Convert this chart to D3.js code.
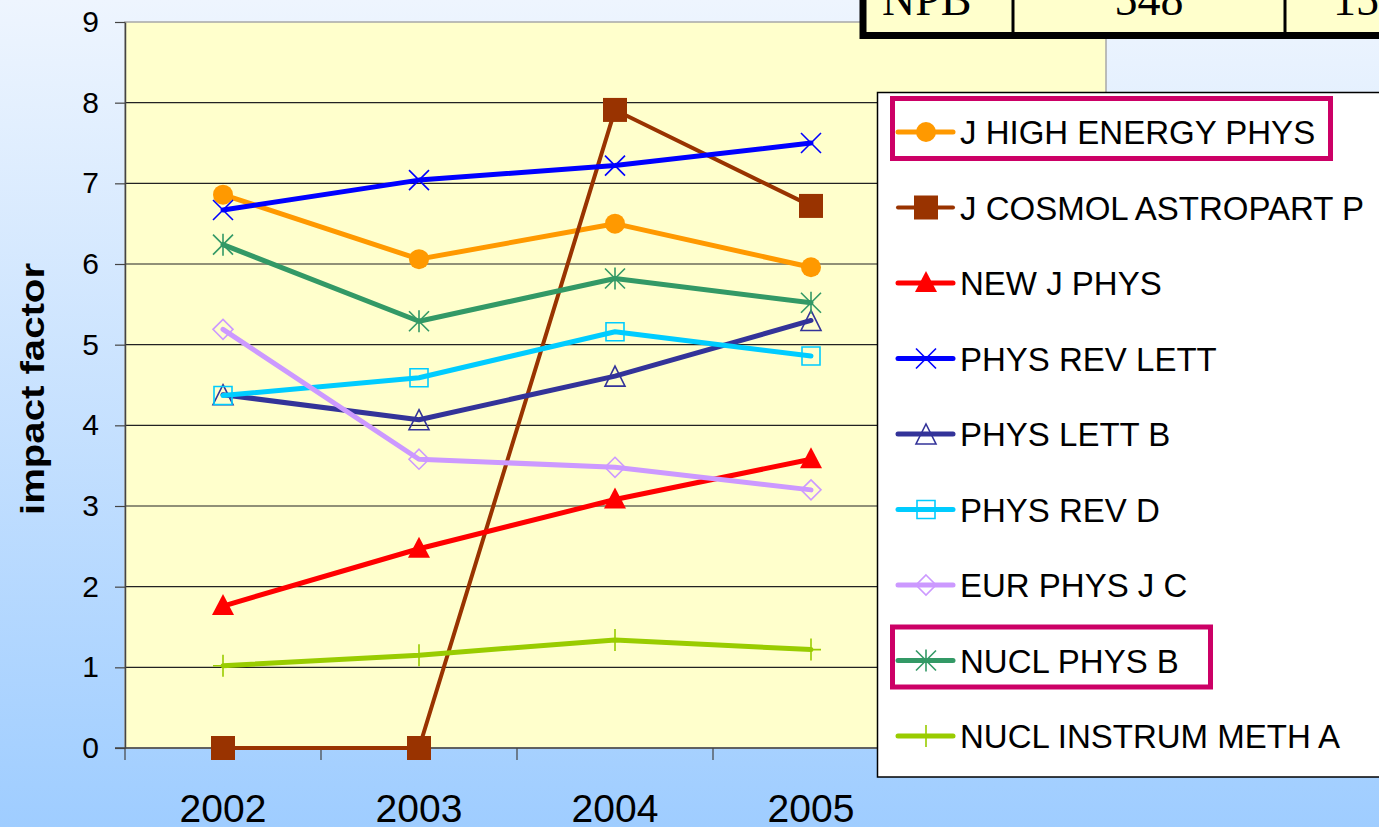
<!DOCTYPE html>
<html>
<head>
<meta charset="utf-8">
<script src="https://cdn.jsdelivr.net/npm/d3@7"></script>
<style>
  body { margin: 0; overflow: hidden; }
  text { font-family: "Liberation Sans", Arial, sans-serif; }
  text.serif { font-family: "Liberation Serif", "Times New Roman", serif; }
</style>
</head>
<body>
<svg id="chart" width="1379" height="827"></svg>
<script>
// impact factor of HEP journals, 2002-2005

var years = ["2002", "2003", "2004", "2005"];
var yTicks = [0, 1, 2, 3, 4, 5, 6, 7, 8, 9];

var seriesNames = ["J HIGH ENERGY PHYS", "J COSMOL ASTROPART P", "NEW J PHYS",
                   "PHYS REV LETT", "PHYS LETT B", "PHYS REV D", "EUR PHYS J C",
                   "NUCL PHYS B", "NUCL INSTRUM METH A"];

var jHighEnergyPhys  = [6.86, 6.06, 6.50, 5.96];
var jCosmolAstropart = [0, 0, 7.91, 6.72];
var newJPhys         = [1.76, 2.47, 3.08, 3.58];
var physRevLett      = [6.67, 7.04, 7.22, 7.50];
var physLettB        = [4.38, 4.07, 4.61, 5.30];
var physRevD         = [4.37, 4.59, 5.16, 4.86];
var eurPhysJC        = [5.19, 3.58, 3.48, 3.20];
var nuclPhysB        = [6.24, 5.29, 5.82, 5.52];
var nuclInstrumMethA = [1.02, 1.15, 1.34, 1.22];

var seriesValues = [jHighEnergyPhys, jCosmolAstropart, newJPhys, physRevLett,
                    physLettB, physRevD, eurPhysJC, nuclPhysB, nuclInstrumMethA];

var seriesColors = ["#FF9900", "#993300", "#FF0000", "#0000FF", "#333399",
                    "#00CCFF", "#CC99FF", "#339966", "#99CC00"];
var seriesMarkers = ["circle", "square", "triangle", "x", "triangleOpen",
                     "squareOpen", "diamondOpen", "asterisk", "plus"];

// legend entries boxed on the slide
var highlighted = ["J HIGH ENERGY PHYS", "NUCL PHYS B"];
var highlightWidth = { "J HIGH ENERGY PHYS": 438, "NUCL PHYS B": 318 };

// corner of a table sitting above the chart
var tableCells = ["NPB", "548", "15"];

var width = 1379, height = 827;
var plotLeft = 125, plotTop = 22, plotBottom = 748, plotRight = 1106;
var svg = d3.select("#chart");

// slide background
var grad = svg.append("defs").append("linearGradient")
  .attr("id", "bg").attr("x1", 0).attr("y1", 0).attr("x2", 0).attr("y2", 1);
grad.append("stop").attr("offset", 0).attr("stop-color", "#EEF5FE");
grad.append("stop").attr("offset", 1).attr("stop-color", "#9FCDFF");
svg.append("rect").attr("width", width).attr("height", height).attr("fill", "url(#bg)");

var x = d3.scaleBand().domain(years).range([plotLeft, plotLeft + 4 * 196]);
var y = d3.scaleLinear().domain([0, 9]).range([plotBottom, plotTop]);
var cx = function(d) { return x(d) + x.bandwidth() / 2; };

// plot area
svg.append("rect")
  .attr("x", plotLeft).attr("y", plotTop)
  .attr("width", plotRight - plotLeft).attr("height", plotBottom - plotTop)
  .attr("fill", "#FFFFCC").attr("stroke", "#A8A8A8").attr("stroke-width", 1.5);

svg.append("g").selectAll("line")
  .data(yTicks.filter(function(t) { return t > 0 && t < 9; }))
  .enter().append("line")
  .attr("x1", plotLeft).attr("x2", plotRight)
  .attr("y1", function(d) { return y(d); }).attr("y2", function(d) { return y(d); })
  .attr("stroke", "#222").attr("stroke-width", 1.2);

// y axis
var yAxis = svg.append("g").attr("transform", "translate(" + plotLeft + ",0)")
  .call(d3.axisLeft(y).tickValues(yTicks).tickSize(10).tickSizeOuter(0).tickPadding(16));
yAxis.select(".domain").attr("stroke", "#444").attr("stroke-width", 1.5);
yAxis.selectAll(".tick line").attr("stroke", "#444").attr("stroke-width", 1.2);
yAxis.selectAll("text").attr("font-size", 30).attr("fill", "#000");

// x axis
svg.append("line").attr("x1", plotLeft - 10).attr("x2", plotRight)
  .attr("y1", plotBottom).attr("y2", plotBottom)
  .attr("stroke", "#444").attr("stroke-width", 1.5);
svg.append("g").selectAll("line")
  .data(years.map(function(d) { return x(d); }).concat([x.range()[1]]))
  .enter().append("line")
  .attr("x1", function(d) { return d; }).attr("x2", function(d) { return d; })
  .attr("y1", plotBottom).attr("y2", plotBottom + 12)
  .attr("stroke", "#444").attr("stroke-width", 1.2);
svg.append("g").selectAll("text").data(years).enter().append("text")
  .attr("x", cx).attr("y", 822)
  .attr("text-anchor", "middle").attr("font-size", 39)
  .text(function(d) { return d; });

svg.append("text")
  .attr("transform", "translate(44,389) rotate(-90)")
  .attr("text-anchor", "middle").attr("font-size", 33).attr("font-weight", "bold")
  .attr("textLength", 252).attr("lengthAdjust", "spacingAndGlyphs")
  .text("impact factor");

function marker(g, kind, color, px, py) {
  var p;
  switch (kind) {
    case "circle":
      g.append("circle").attr("cx", px).attr("cy", py).attr("r", 10).attr("fill", color);
      return;
    case "square":
      g.append("rect").attr("x", px - 12).attr("y", py - 12)
        .attr("width", 24).attr("height", 24).attr("fill", color);
      return;
    case "triangle":
      g.append("path").attr("fill", color)
        .attr("d", "M" + px + "," + (py - 12) + "L" + (px + 11) + "," + (py + 9) +
                   "L" + (px - 11) + "," + (py + 9) + "Z");
      return;
    case "x":
      p = "M" + (px - 10) + "," + (py - 10) + "L" + (px + 10) + "," + (py + 10) +
          "M" + (px + 10) + "," + (py - 10) + "L" + (px - 10) + "," + (py + 10);
      break;
    case "triangleOpen":
      p = "M" + px + "," + (py - 10) + "L" + (px + 10) + "," + (py + 10) +
          "L" + (px - 10) + "," + (py + 10) + "Z";
      break;
    case "squareOpen":
      p = "M" + (px - 9) + "," + (py - 9) + "h18v18h-18Z";
      break;
    case "diamondOpen":
      p = "M" + px + "," + (py - 10) + "L" + (px + 10) + "," + py +
          "L" + px + "," + (py + 10) + "L" + (px - 10) + "," + py + "Z";
      break;
    case "asterisk":
      p = "M" + (px - 10) + "," + (py - 10) + "L" + (px + 10) + "," + (py + 10) +
          "M" + (px + 10) + "," + (py - 10) + "L" + (px - 10) + "," + (py + 10) +
          "M" + px + "," + (py - 11) + "L" + px + "," + (py + 11);
      break;
    case "plus":
      p = "M" + px + "," + (py - 11) + "L" + px + "," + (py + 11) +
          "M" + (px - 10) + "," + py + "L" + (px + 10) + "," + py;
      break;
  }
  g.append("path").attr("d", p).attr("fill", "none")
    .attr("stroke", color).attr("stroke-width", 1.6);
}

// series
var line = d3.line().x(function(d) { return cx(d[0]); }).y(function(d) { return y(d[1]); });
seriesValues.forEach(function(vals, i) {
  var g = svg.append("g");
  var pts = years.map(function(yr, j) { return [yr, vals[j]]; });
  g.append("path").datum(pts).attr("d", line).attr("fill", "none")
    .attr("stroke", seriesColors[i]).attr("stroke-width", i == 1 ? 4 : 5)
    .attr("stroke-linejoin", "round").attr("stroke-linecap", "round");
  pts.forEach(function(d) { marker(g, seriesMarkers[i], seriesColors[i], cx(d[0]), y(d[1])); });
});

// legend
var leg = svg.append("g");
leg.append("rect").attr("x", 877.5).attr("y", 92.5).attr("width", 600).attr("height", 684.5)
  .attr("fill", "#fff").attr("stroke", "#000").attr("stroke-width", 1.5);
seriesNames.forEach(function(name, i) {
  var rowY = 132 + i * 75.5;
  leg.append("line").attr("x1", 898).attr("x2", 953).attr("y1", rowY).attr("y2", rowY)
    .attr("stroke", seriesColors[i]).attr("stroke-width", i == 1 ? 4 : 5)
    .attr("stroke-linecap", "round");
  marker(leg, seriesMarkers[i], seriesColors[i], 926, rowY);
  leg.append("text").attr("x", 960).attr("y", rowY + 12)
    .attr("font-size", 33).text(name);
  if (highlighted.indexOf(name) >= 0) {
    leg.append("rect").attr("x", 892.5).attr("y", rowY - 33.5)
      .attr("width", highlightWidth[name]).attr("height", 60)
      .attr("fill", "none").attr("stroke", "#CC0066").attr("stroke-width", 5);
  }
});

// table fragment at the top
var tbl = svg.append("g");
tbl.append("rect").attr("x", 863).attr("y", -40).attr("width", 600).attr("height", 75.5)
  .attr("fill", "#FFFFCC").attr("stroke", "#000").attr("stroke-width", 7);
[1013, 1285].forEach(function(d) {
  tbl.append("line").attr("x1", d).attr("x2", d).attr("y1", -5).attr("y2", 33)
    .attr("stroke", "#000").attr("stroke-width", 3);
});
var cellX = [882, 1149, 1333], cellAnchor = ["start", "middle", "start"];
tableCells.forEach(function(t, i) {
  tbl.append("text").attr("class", "serif").attr("x", cellX[i]).attr("y", 15)
    .attr("text-anchor", cellAnchor[i]).attr("font-size", 46).text(t);
});
</script>
</body>
</html>
